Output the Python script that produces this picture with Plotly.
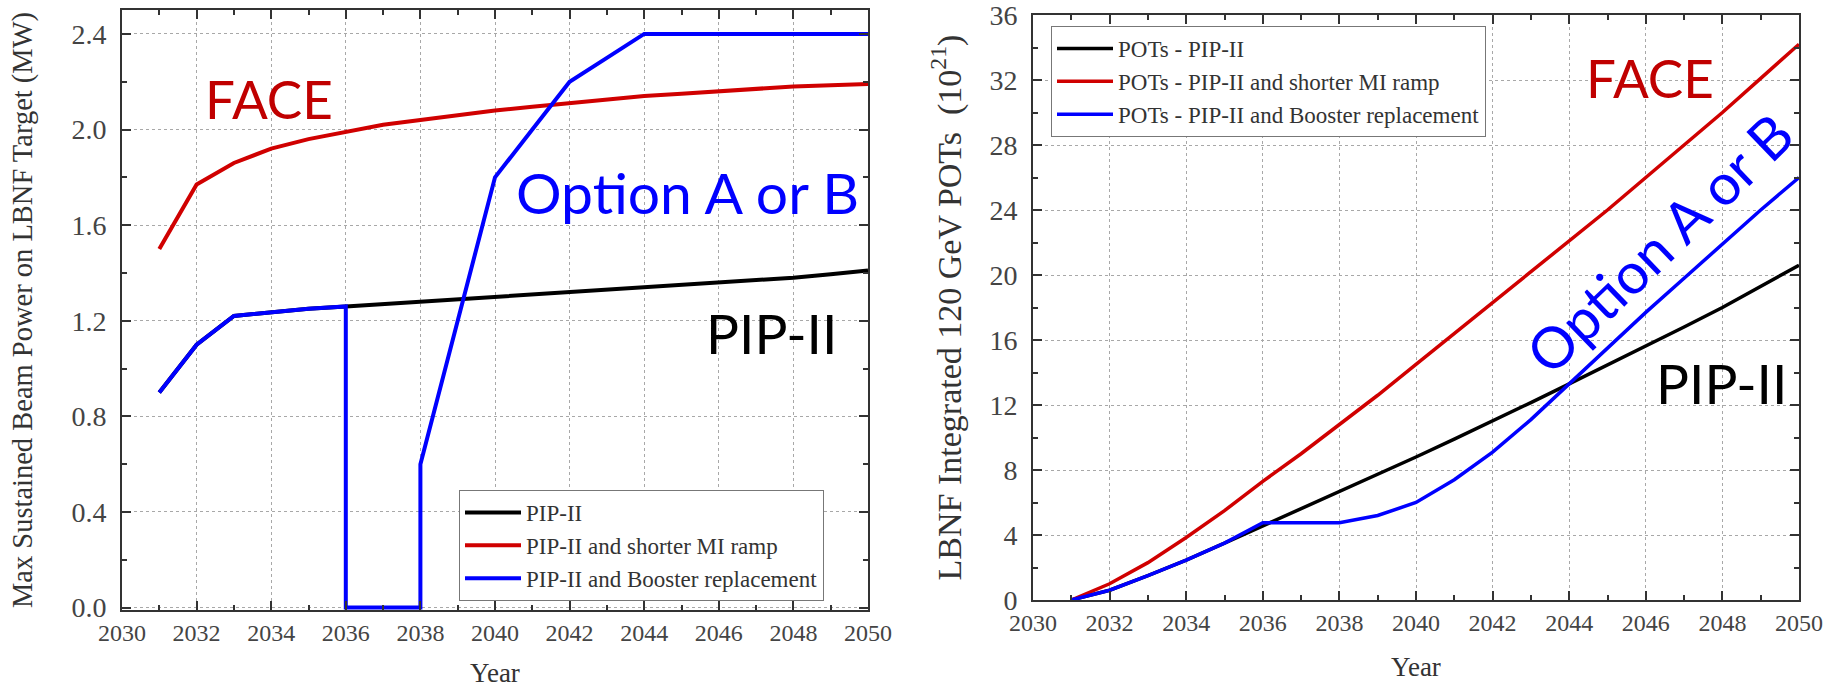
import plotly.graph_objects as go

# ---- Left panel: beam power on target (MW) ----
years = list(range(2031, 2051))
pip2_power = [0.90, 1.10, 1.22, 1.235, 1.25, 1.26, 1.27, 1.28, 1.29, 1.30,
              1.31, 1.32, 1.33, 1.34, 1.35, 1.36, 1.37, 1.38, 1.395, 1.41]
mi_ramp_power = [1.50, 1.77, 1.86, 1.92, 1.96, 1.99, 2.02, 2.04, 2.06, 2.08,
                 2.095, 2.11, 2.125, 2.14, 2.15, 2.16, 2.17, 2.18, 2.185, 2.19]
booster_years = [2031, 2032, 2033, 2034, 2035, 2036, 2036, 2037, 2038, 2038,
                 2039, 2040, 2041, 2042, 2043, 2044, 2045, 2046, 2047, 2048,
                 2049, 2050]
booster_power = [0.90, 1.10, 1.22, 1.235, 1.25, 1.26, 0.0, 0.0, 0.0, 0.60,
                 1.20, 1.80, 2.00, 2.20, 2.30, 2.40, 2.40, 2.40, 2.40, 2.40,
                 2.40, 2.40]

# ---- Right panel: integrated 120 GeV POTs (1e21) ----
pip2_pot = [0.0, 0.6, 1.5, 2.45, 3.5, 4.55, 5.65, 6.7, 7.75, 8.8,
            9.9, 11.0, 12.15, 13.3, 14.45, 15.6, 16.8, 18.0, 19.3, 20.6]
mi_ramp_pot = [0.0, 1.0, 2.3, 3.85, 5.5, 7.3, 9.0, 10.8, 12.6, 14.5,
               16.4, 18.3, 20.2, 22.1, 24.0, 26.0, 28.0, 30.0, 32.1, 34.2]
booster_pot = [0.0, 0.6, 1.5, 2.45, 3.5, 4.75, 4.75, 4.75, 5.2, 6.0,
               7.4, 9.1, 11.1, 13.3, 15.5, 17.7, 19.8, 21.9, 24.0, 26.0]

left_names = ["PIP-II", "PIP-II and shorter MI ramp", "PIP-II and Booster replacement"]
right_names = ["POTs - PIP-II", "POTs - PIP-II and shorter MI ramp",
               "POTs - PIP-II and Booster replacement"]

BLACK, RED, BLUE = "#000000", "#D00000", "#0000FF"
SERIF = "Liberation Serif"
W, H = 1835, 688

fig = go.Figure()

fig.add_trace(go.Scatter(x=years, y=pip2_power, mode="lines", name=left_names[0],
                         line=dict(color=BLACK, width=4), xaxis="x", yaxis="y", legend="legend"))
fig.add_trace(go.Scatter(x=years, y=mi_ramp_power, mode="lines", name=left_names[1],
                         line=dict(color=RED, width=4), xaxis="x", yaxis="y", legend="legend"))
fig.add_trace(go.Scatter(x=booster_years, y=booster_power, mode="lines", name=left_names[2],
                         line=dict(color=BLUE, width=4), xaxis="x", yaxis="y", legend="legend"))

fig.add_trace(go.Scatter(x=years, y=pip2_pot, mode="lines", name=right_names[0],
                         line=dict(color=BLACK, width=3.5), xaxis="x2", yaxis="y2", legend="legend2"))
fig.add_trace(go.Scatter(x=years, y=mi_ramp_pot, mode="lines", name=right_names[1],
                         line=dict(color=RED, width=3.5), xaxis="x2", yaxis="y2", legend="legend2"))
fig.add_trace(go.Scatter(x=years, y=booster_pot, mode="lines", name=right_names[2],
                         line=dict(color=BLUE, width=3.5), xaxis="x2", yaxis="y2", legend="legend2"))


def axis_style(size, **kw):
    base = dict(
        automargin=False, ticklabeloverflow="allow",
        showline=True, linecolor="#333333", linewidth=2, mirror="ticks",
        ticks="inside", ticklen=9, tickwidth=2, tickcolor="#333333",
        showgrid=True, gridcolor="#a8a8a8", gridwidth=1, griddash="dot",
        zeroline=False,
        tickfont=dict(family=SERIF, size=size, color="#444444"),
    )
    base.update(kw)
    return base


def minor(step):
    return dict(dtick=step, ticklen=5, tickwidth=2, ticks="inside",
                tickcolor="#333333", showgrid=False)


def px_x(p):
    return p / W


def px_y(p):
    return (H - p) / H


TITLE_COLOR = "#333333"

fig.update_layout(
    width=W, height=H,
    margin=dict(l=0, r=0, t=0, b=0, autoexpand=False),
    paper_bgcolor="white", plot_bgcolor="white",
    xaxis=axis_style(
        24, domain=[px_x(122), px_x(868)], range=[2030, 2050], tick0=2030, dtick=2,
        minor=minor(1), anchor="y", ticklabelstandoff=0,
        title=dict(text="Year", font=dict(family=SERIF, size=27, color=TITLE_COLOR), standoff=30),
    ),
    yaxis=axis_style(
        28, domain=[px_y(610), px_y(10)], range=[-0.01, 2.5], tick0=0, dtick=0.4, tickformat=".1f",
        minor=minor(0.2), anchor="x", ticklabelstandoff=8,
        title=dict(text="Max Sustained Beam Power on LBNF Target (MW)",
                   font=dict(family=SERIF, size=28.5, color=TITLE_COLOR), standoff=30),
    ),
    xaxis2=axis_style(
        24, domain=[px_x(1033), px_x(1799)], range=[2030, 2050], tick0=2030, dtick=2,
        minor=minor(1), anchor="y2", ticklabelstandoff=0,
        title=dict(text="Year", font=dict(family=SERIF, size=27, color=TITLE_COLOR), standoff=22),
    ),
    yaxis2=axis_style(
        28, domain=[px_y(600), px_y(15)], range=[0, 36], tick0=0, dtick=4,
        minor=minor(2), anchor="x2", ticklabelstandoff=8,
        title=dict(text="LBNF Integrated 120 GeV POTs\u00a0\u00a0(10<sup>21</sup>)",
                   font=dict(family=SERIF, size=34, color=TITLE_COLOR), standoff=18),
    ),
    legend=dict(
        x=px_x(459), y=px_y(490), xanchor="left", yanchor="top",
        bgcolor="white", bordercolor="#777777", borderwidth=1,
        font=dict(family=SERIF, size=23, color="#333333"),
        itemwidth=56, tracegroupgap=0,
    ),
    legend2=dict(
        x=px_x(1051), y=px_y(26), xanchor="left", yanchor="top",
        bgcolor="white", bordercolor="#777777", borderwidth=1,
        font=dict(family=SERIF, size=23, color="#333333"),
        itemwidth=56, tracegroupgap=0,
    ),
    showlegend=True,
)

LABEL_FONT = "Lato"
annotations = [
    dict(text="FACE", x=2033.93, y=2.128, xref="x", yref="y", color="#C00000", size=53),
    dict(text="Option A or B", x=2045.17, y=1.74, xref="x", yref="y", color="#0000FF", size=57),
    dict(text="PIP-II", x=2047.4, y=1.147, xref="x", yref="y", color="#000000", size=55),
    dict(text="FACE", x=2046.11, y=32.18, xref="x2", yref="y2", color="#C00000", size=53),
    dict(text="Option A or B", x=2046.33, y=22.0, xref="x2", yref="y2", color="#0000FF",
         size=57, angle=-44),
    dict(text="PIP-II", x=2047.98, y=13.38, xref="x2", yref="y2", color="#000000", size=55),
]
for a in annotations:
    fig.add_annotation(
        text=a["text"], x=a["x"], y=a["y"], xref=a["xref"], yref=a["yref"],
        showarrow=False, textangle=a.get("angle", 0),
        font=dict(family=LABEL_FONT, size=a["size"], color=a["color"]),
    )

fig.write_html("out.html")
